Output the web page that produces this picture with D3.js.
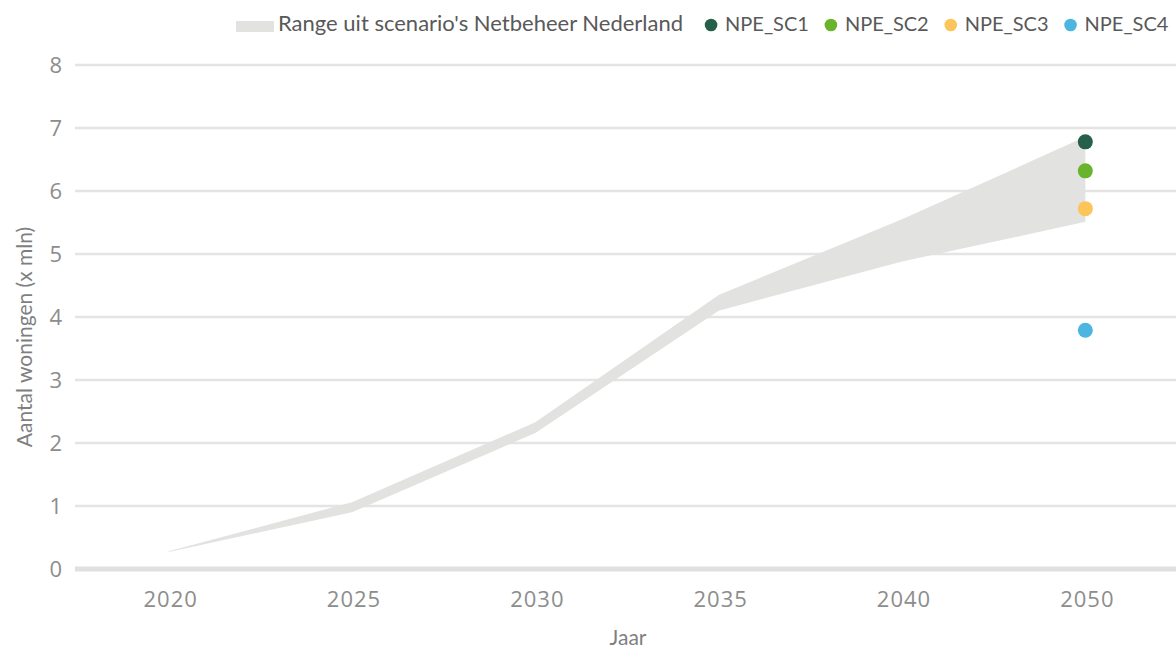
<!DOCTYPE html>
<html>
<head>
<meta charset="utf-8">
<script src="https://cdn.jsdelivr.net/npm/d3@7"></script>
<style>
  html, body { margin: 0; padding: 0; background: #fff; }
  svg { display: block; }
</style>
</head>
<body>
<div id="chart"></div>
<script>
const width = 1176;
const height = 648;

// data
const years = ["2020", "2025", "2030", "2035", "2040", "2050"];
const rangeLow = [0.27, 0.90, 2.16, 4.10, 4.88, 5.51];
const rangeHigh = [0.28, 1.06, 2.33, 4.35, 5.55, 6.86];
const scenarioNames = ["NPE_SC1", "NPE_SC2", "NPE_SC3", "NPE_SC4"];
const scenarioYear = "2050";
const scenarioValues = [6.78, 6.32, 5.72, 3.79];
const scenarioColors = ["#27604a", "#6ab42d", "#fbc55a", "#4cb5e0"];
const yTicks = [0, 1, 2, 3, 4, 5, 6, 7, 8];
const rangeLabel = "Range uit scenario's Netbeheer Nederland";

const bandColor = "#e2e2e0";
const gridColor = "#e4e4e4";

const svg = d3.select("#chart").append("svg")
    .attr("width", width)
    .attr("height", height);

const x = d3.scalePoint()
    .domain(years)
    .range([77, 1177])
    .padding(0.5);

const y = d3.scaleLinear()
    .domain([0, 8])
    .range([569, 65]);

// gridlines
svg.append("g").selectAll("line")
    .data(yTicks.filter(d => d > 0))
    .join("line")
    .attr("x1", 75)
    .attr("x2", width)
    .attr("y1", d => y(d))
    .attr("y2", d => y(d))
    .attr("stroke", gridColor)
    .attr("stroke-width", 2.5);

// y tick labels
svg.append("g").selectAll("text")
    .data(yTicks)
    .join("text")
    .attr("x", 62)
    .attr("y", d => y(d))
    .attr("dy", "0.36em")
    .attr("text-anchor", "end")
    .attr("font-family", "'Open Sans', sans-serif")
    .attr("font-size", 22)
    .attr("fill", "#8d8d8d")
    .text(d => d);

// range band
const bandData = years.map((yr, i) => ({ yr, lo: rangeLow[i], hi: rangeHigh[i] }));
const area = d3.area()
    .x(d => x(d.yr))
    .y0(d => y(d.lo))
    .y1(d => y(d.hi));

svg.append("path")
    .datum(bandData)
    .attr("d", area)
    .attr("fill", bandColor);

// baseline
svg.append("line")
    .attr("x1", 75)
    .attr("x2", width)
    .attr("y1", y(0))
    .attr("y2", y(0))
    .attr("stroke", "#e0e0e0")
    .attr("stroke-width", 5);

// x tick labels
svg.append("g").selectAll("text")
    .data(years)
    .join("text")
    .attr("x", d => x(d) + 2)
    .attr("y", 607)
    .attr("text-anchor", "middle")
    .attr("font-family", "'Open Sans', sans-serif")
    .attr("font-size", 22)
    .attr("letter-spacing", 1)
    .attr("fill", "#8d8d8d")
    .text(d => d);

// scenario points
svg.append("g").selectAll("circle")
    .data(scenarioValues)
    .join("circle")
    .attr("cx", x(scenarioYear))
    .attr("cy", d => y(d))
    .attr("r", 7.5)
    .attr("fill", (d, i) => scenarioColors[i]);

// axis titles
svg.append("text")
    .attr("transform", `translate(32, 337) rotate(-90)`)
    .attr("text-anchor", "middle")
    .attr("font-family", "Lato, sans-serif")
    .attr("font-size", 21)
    .attr("fill", "#7f7f7f")
    .text("Aantal woningen (x mln)");

svg.append("text")
    .attr("x", 628)
    .attr("y", 645)
    .attr("text-anchor", "middle")
    .attr("font-family", "Lato, sans-serif")
    .attr("font-size", 21)
    .attr("fill", "#7f7f7f")
    .text("Jaar");

// legend
const legend = svg.append("g");
const legendY = 31;

let lx = 236;
legend.append("rect")
    .attr("x", lx)
    .attr("y", 21)
    .attr("width", 38)
    .attr("height", 11)
    .attr("fill", bandColor);
lx += 42;
const rangeText = legend.append("text")
    .attr("x", lx)
    .attr("y", legendY)
    .attr("font-family", "Lato, sans-serif")
    .attr("font-size", 22)
    .attr("fill", "#595959")
    .text(rangeLabel);
lx += rangeText.node().getComputedTextLength() + 22;

scenarioNames.forEach((name, i) => {
    legend.append("circle")
        .attr("cx", lx + 6)
        .attr("cy", 25)
        .attr("r", 6.3)
        .attr("fill", scenarioColors[i]);
    const t = legend.append("text")
        .attr("x", lx + 20)
        .attr("y", legendY)
        .attr("font-family", "Lato, sans-serif")
        .attr("font-size", 20)
        .attr("fill", "#595959")
        .text(name);
    lx += 20 + t.node().getComputedTextLength() + 16;
});
</script>
</body>
</html>
